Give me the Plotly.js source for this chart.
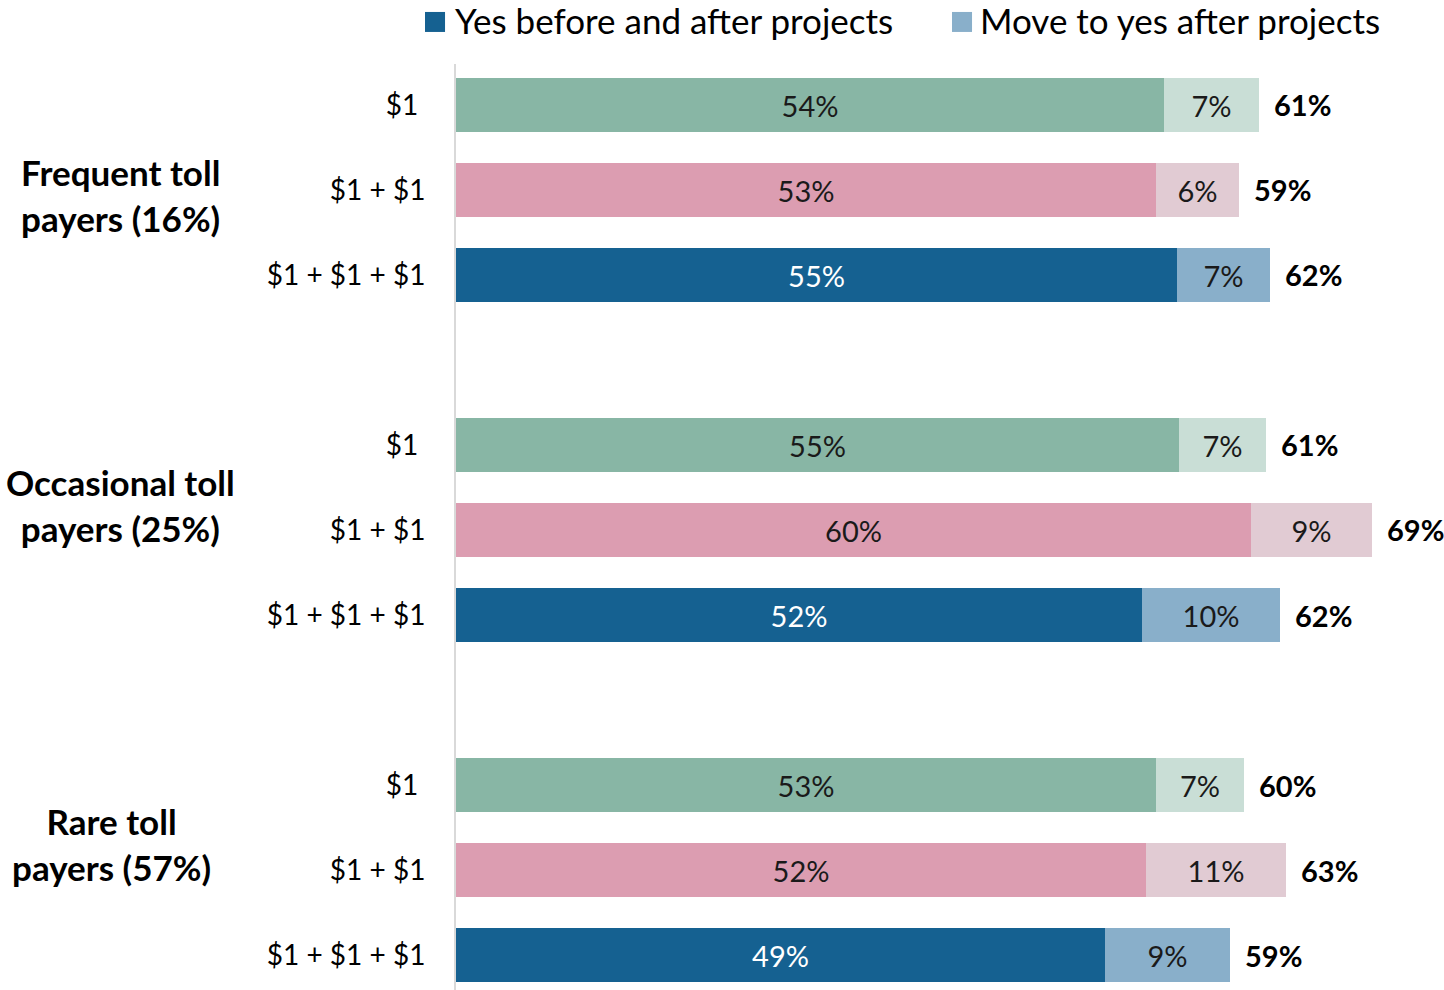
<!DOCTYPE html>
<html>
<head>
<meta charset="utf-8">
<script src="https://cdn.plot.ly/plotly-3.0.1.min.js"></script>
<style>html,body{margin:0;padding:0;background:#fff;}#chart{width:1444px;height:990px;}</style>
</head>
<body>
<div id="chart"></div>
<script>
// ---- data ----
const groups = ['Frequent toll<br>payers (16%)', 'Occasional toll<br>payers (25%)', 'Rare toll<br>payers (57%)'];
const priceLevels = ['$1', '$1 + $1', '$1 + $1 + $1'];
const seriesNames = ['Yes before and after projects', 'Move to yes after projects'];
// order: Frequent($1, $1+$1, $1+$1+$1), Occasional(...), Rare(...)
const yesBefore = [53.6, 53.0, 54.6, 54.8, 60.2, 52.0, 53.0, 52.3, 49.2];
const moveToYes = [7.2, 6.3, 7.1, 6.6, 9.2, 10.4, 6.7, 10.6, 9.4];

// ---- styles ----
const FONT = 'Lato, "Open Sans", sans-serif';
const yesColors = ['#88B6A5', '#DC9DB1', '#156191'];
const moveColors = ['#C9DED6', '#E1CBD3', '#89AFCA'];
const yesText = ['#1a1a1a', '#1a1a1a', '#ffffff'];
const moveText = ['#1a1a1a', '#1a1a1a', '#1a1a1a'];

const ys = [], yC = [], mC = [], yT = [], mT = [], tickvals = [], ticktext = [];
groups.forEach((g, gi) => {
  priceLevels.forEach((p, pi) => {
    const pos = (groups.length - 1 - gi) * 4 + (priceLevels.length - 1 - pi);
    ys.push(pos);
    yC.push(yesColors[pi]); mC.push(moveColors[pi]);
    yT.push(yesText[pi]); mT.push(moveText[pi]);
    tickvals.push(pos);
    ticktext.push(p === '$1' ? p + '\u00a0' : p);
  });
});

const barWidth = 0.635;
const traces = [
  {
    type: 'bar', orientation: 'h', name: seriesNames[0], showlegend: false,
    x: yesBefore, y: ys, width: barWidth,
    marker: {color: yC, line: {width: 0}},
    texttemplate: '%{x:.0f}%', textposition: 'inside', insidetextanchor: 'middle',
    textfont: {family: FONT, size: 29, color: yT}, hoverinfo: 'x+name'
  },
  {
    type: 'bar', orientation: 'h', name: seriesNames[1], showlegend: false,
    x: moveToYes, y: ys, width: barWidth,
    marker: {color: mC, line: {width: 0}},
    texttemplate: '%{x:.0f}%', textposition: 'inside', insidetextanchor: 'middle',
    textfont: {family: FONT, size: 29, color: mT}, hoverinfo: 'x+name'
  }
];

const annotations = [];
const shapes = [];
yesBefore.forEach((v, i) => {
  const tot = v + moveToYes[i];
  annotations.push({
    x: tot, y: ys[i], xref: 'x', yref: 'y', xanchor: 'left', yanchor: 'middle',
    xshift: 13, showarrow: false, text: '<b>' + Math.round(tot) + '%</b>',
    font: {family: FONT, size: 29, color: '#000'}
  });
});
const groupLabelPos = [[-0.34, 8.94], [-0.34, 5.29], [-0.349, 1.31]];
groups.forEach((g, gi) => {
  annotations.push({
    x: groupLabelPos[gi][0], y: groupLabelPos[gi][1], xref: 'paper', yref: 'y',
    xanchor: 'center', yanchor: 'middle', showarrow: false, align: 'center',
    text: '<b>' + g + '</b>', font: {family: FONT, size: 35, color: '#000'}
  });
});

// legend (drawn as shapes + text, in paper coordinates)
const legendItems = [
  {name: seriesNames[0], color: yesColors[2], x0: -0.0314, x1: -0.0111, tx: -0.0035},
  {name: seriesNames[1], color: moveColors[2], x0: 0.5020, x1: 0.5223, tx: 0.5284}
];
legendItems.forEach(it => {
  shapes.push({type: 'rect', xref: 'paper', yref: 'paper', x0: it.x0, x1: it.x1,
    y0: 1.0346, y1: 1.0562, fillcolor: it.color, line: {width: 0}});
  annotations.push({x: it.tx, y: 1.0475, xref: 'paper', yref: 'paper', xanchor: 'left',
    yanchor: 'middle', showarrow: false, text: it.name,
    font: {family: FONT, size: 35, color: '#000'}});
});

const layout = {
  width: 1444, height: 990,
  margin: {l: 456, r: 0, t: 64, b: 0, pad: 0},
  paper_bgcolor: '#ffffff', plot_bgcolor: '#ffffff',
  barmode: 'stack', bargap: 0,
  font: {family: FONT, color: '#000'},
  showlegend: false,
  xaxis: {
    range: [0, 74.85], showgrid: false, zeroline: false, showticklabels: false,
    showline: false, fixedrange: true
  },
  yaxis: {
    range: [-0.41, 10.48], tickmode: 'array', tickvals: tickvals, ticktext: ticktext,
    showgrid: false, zeroline: false, showline: true, linecolor: '#D9D9D9', linewidth: 2,
    ticks: '', ticklabelstandoff: 23,
    tickfont: {family: FONT, size: 28, color: '#000'}, fixedrange: true
  },
  shapes: shapes,
  annotations: annotations
};

Plotly.newPlot('chart', traces, layout, {displayModeBar: false, responsive: false});
</script>
</body>
</html>
